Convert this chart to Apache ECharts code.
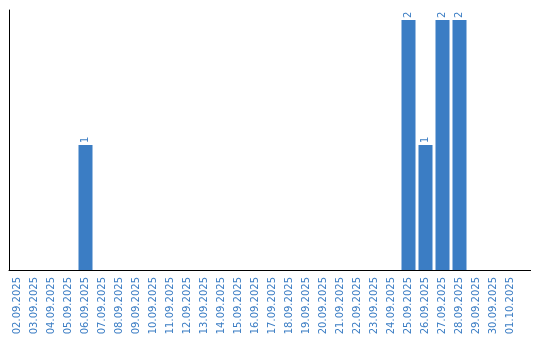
<!DOCTYPE html>
<html>
<head>
<meta charset="utf-8">
<script src="https://cdn.jsdelivr.net/npm/echarts@6/dist/echarts.min.js"></script>
<style>html,body{margin:0;padding:0;background:#fff}#c{width:540px;height:340px}</style>
</head>
<body>
<div id="c"></div>
<script>
const categories = ["02.09.2025","03.09.2025","04.09.2025","05.09.2025","06.09.2025","07.09.2025","08.09.2025","09.09.2025","10.09.2025","11.09.2025","12.09.2025","13.09.2025","14.09.2025","15.09.2025","16.09.2025","17.09.2025","18.09.2025","19.09.2025","20.09.2025","21.09.2025","22.09.2025","23.09.2025","24.09.2025","25.09.2025","26.09.2025","27.09.2025","28.09.2025","29.09.2025","30.09.2025","01.10.2025"];
const values = [0,0,0,0,1,0,0,0,0,0,0,0,0,0,0,0,0,0,0,0,0,0,0,2,1,2,2,0,0,0];

const blue = '#3b7dc4';
const chart = echarts.init(document.getElementById('c'));
chart.setOption({
  animation: false,
  grid: {left: 9, right: 21, top: 10, bottom: 70, containLabel: false},
  xAxis: {
    type: 'category',
    data: categories,
    axisLine: {lineStyle: {color: '#000', width: 1}},
    axisTick: {show: false},
    axisLabel: {rotate: 90, interval: 0, margin: 7, color: blue, fontSize: 10, fontFamily: 'DejaVu Sans'}
  },
  yAxis: {
    type: 'value',
    min: 0, max: 2.08,
    axisLine: {show: true, lineStyle: {color: '#000', width: 1}},
    axisTick: {show: false},
    axisLabel: {show: false},
    splitLine: {show: false}
  },
  graphic: [{
    type: 'line', shape: {x1: 518, y1: 270.5, x2: 531, y2: 270.5},
    style: {stroke: '#000', lineWidth: 1}
  }],
  series: [{
    type: 'bar',
    data: values.map(v => v === 0 ? null : v),
    barWidth: 14,
    itemStyle: {color: blue},
    label: {
      show: true, position: 'top', rotate: 90, align: 'left', verticalAlign: 'middle',
      distance: 2, color: blue, fontSize: 10, fontFamily: 'DejaVu Sans'
    }
  }]
});
</script>
</body>
</html>
